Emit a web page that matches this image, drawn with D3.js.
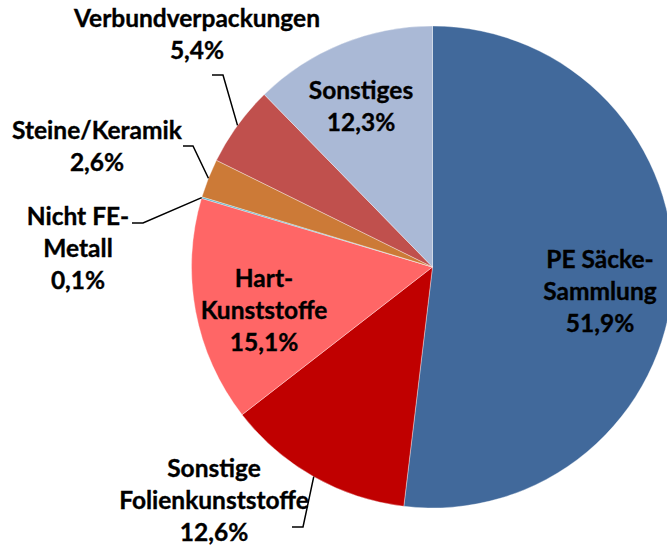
<!DOCTYPE html>
<html>
<head>
<meta charset="utf-8">
<script src="https://cdn.jsdelivr.net/npm/d3@7"></script>
<style>
  body { margin: 0; background: #fff; }
  svg { display: block; }
  .label { font-family: Lato, "Open Sans", sans-serif; font-weight: 700; font-size: 24.5px; fill: #000; stroke: #000; stroke-width: 0.35px; }
  .leader { fill: none; stroke: #000; stroke-width: 1.5px; }
</style>
</head>
<body>
<svg id="chart" width="667" height="548"></svg>
<script>
// Anteile in Prozent, im Uhrzeigersinn ab 12 Uhr
const categories = [
  'PE Säcke-Sammlung',
  'Sonstige Folienkunststoffe',
  'Hart-Kunststoffe',
  'Nicht FE-Metall',
  'Steine/Keramik',
  'Verbundverpackungen',
  'Sonstiges',
];
const shares = [51.9, 12.6, 15.1, 0.1, 2.6, 5.4, 12.3];
const labelLines = [
  ['PE Säcke-', 'Sammlung'],
  ['Sonstige', 'Folienkunststoffe'],
  ['Hart-', 'Kunststoffe'],
  ['Nicht FE-', 'Metall'],
  ['Steine/Keramik'],
  ['Verbundverpackungen'],
  ['Sonstiges'],
];
const colors = ['#41699b', '#c00000', '#ff6666', '#4bacc6', '#cc7a37', '#c0504d', '#aab9d6'];

// label placement (text block centre x, first baseline y) and leader knees
const layout = [
  { x: 600, y: 268 },
  { x: 214, y: 477, leader: [[292, 527], [303, 527]] },
  { x: 264, y: 287 },
  { x: 78, y: 225, leader: [[132, 223], [143, 223]] },
  { x: 97, y: 139, leader: [[183, 146], [193, 146]] },
  { x: 197, y: 27, leader: [[212, 75], [223, 75]] },
  { x: 361, y: 99 },
];

const cx = 432.5;
const cy = 267;
const radius = 241;
const lineHeight = 32;

const svg = d3.select('#chart');
const g = svg.append('g').attr('transform', `translate(${cx},${cy})`);

const pie = d3.pie().sort(null).value((d) => d.share);
const arc = d3.arc().innerRadius(0).outerRadius(radius);

const data = categories.map((c, i) => ({
  name: c, share: shares[i], lines: labelLines[i], color: colors[i], pos: layout[i],
}));
const arcs = pie(data);

g.selectAll('path.slice')
  .data(arcs)
  .enter()
  .append('path')
  .attr('class', 'slice')
  .attr('d', arc)
  .attr('fill', (d) => d.data.color)
  .attr('stroke', '#fff')
  .attr('stroke-opacity', 0.6)
  .attr('stroke-width', 0.6);

const fmt = (v) => d3.format('.1f')(v).replace('.', ',') + '%';

// leader lines end on the outer edge at the slice's mid angle
g.selectAll('path.leader')
  .data(arcs.filter((d) => d.data.pos.leader))
  .enter()
  .append('path')
  .attr('class', 'leader')
  .attr('d', (d) => {
    const mid = (d.startAngle + d.endAngle) / 2;
    const end = [radius * Math.sin(mid), -radius * Math.cos(mid)];
    const pts = d.data.pos.leader.map(([x, y]) => [x - cx, y - cy]).concat([end]);
    return d3.line()(pts);
  });

const labels = svg.selectAll('text.label')
  .data(arcs)
  .enter()
  .append('text')
  .attr('class', 'label')
  .attr('text-anchor', 'middle');

labels.selectAll('tspan')
  .data((d) => d.data.lines.concat([fmt(d.data.share)]).map((t) => ({ t, pos: d.data.pos })))
  .enter()
  .append('tspan')
  .attr('x', (d) => d.pos.x)
  .attr('y', (d, i) => d.pos.y + i * lineHeight)
  .text((d) => d.t);
</script>
</body>
</html>
